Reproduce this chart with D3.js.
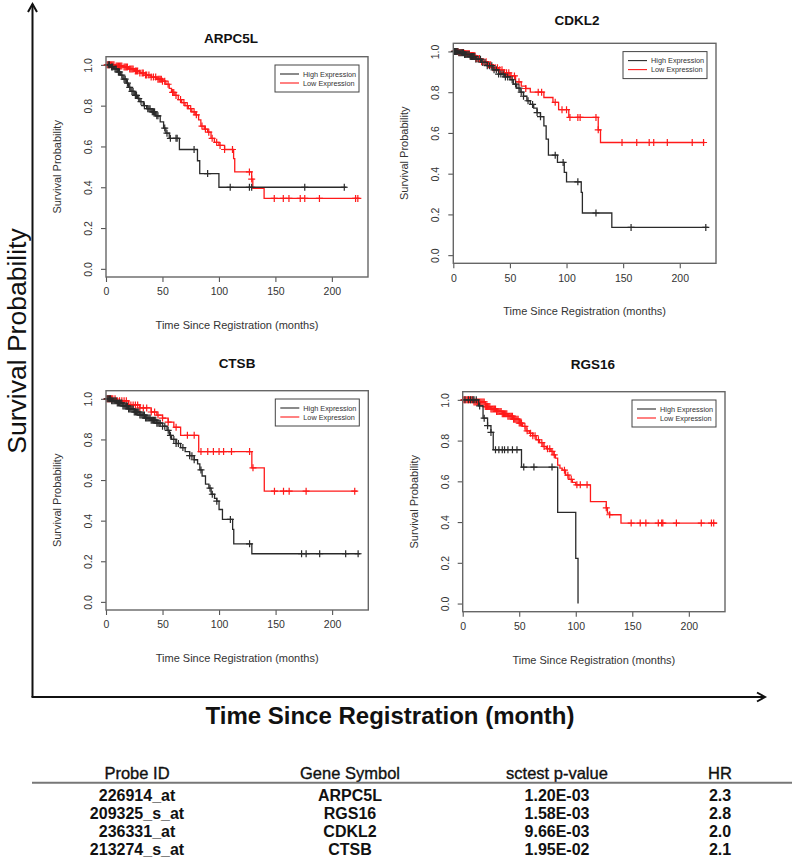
<!DOCTYPE html>
<html><head><meta charset="utf-8">
<script src="https://cdn.jsdelivr.net/npm/d3@7"></script>
<style>body{margin:0;background:#fff;} svg{display:block;font-family:"Liberation Sans",Arial,sans-serif;}</style>
</head><body><svg id="c" width="800" height="867"></svg>
<script>
// ---------------- DATA ----------------
const genes = ["ARPC5L", "CDKL2", "CTSB", "RGS16"];
const groupLabels = ["High Expression", "Low Expression"];
const xTicks = [0, 50, 100, 150, 200];
const yTicks = [0, 0.2, 0.4, 0.6, 0.8, 1.0];
const xAxisTitle = "Time Since Registration (months)";
const yAxisTitle = "Survival Probability";
const bigXTitle = "Time Since Registration (month)";
const bigYTitle = "Survival Probability";

const arpc5lHighTime = [0,4,7,10,13,15,18,20,22,25,28,30,33,36,40,44,48,51,53,56,65,81,83,100,213];
const arpc5lHighSurv = [1,0.99,0.98,0.965,0.95,0.93,0.91,0.89,0.87,0.85,0.835,0.82,0.80,0.785,0.77,0.75,0.72,0.69,0.665,0.64,0.585,0.53,0.467,0.40,0.40];
const arpc5lHighCensor = [2,3,5,6,8,9,11,12,14,16,17,19,21,23,24,26,27,29,31,34,37,38,39,41,42,43,45,46,52,54,57,62,63,78,90,110,127,129,176,211];
const arpc5lLowTime = [0,8,15,20,25,30,35,40,45,50,53,56,58,61,64,67,70,73,76,79,82,84,87,90,93,96,100,105,113,114,129,130,140,225];
const arpc5lLowSurv = [1,0.995,0.99,0.98,0.97,0.96,0.95,0.94,0.93,0.92,0.905,0.885,0.865,0.85,0.83,0.815,0.80,0.785,0.77,0.755,0.73,0.70,0.685,0.67,0.64,0.62,0.605,0.585,0.54,0.475,0.44,0.395,0.345,0.345];
const arpc5lLowCensor = [1,2,3,4,5,6,7,9,10,11,12,13,14,16,17,18,19,21,22,23,24,26,27,28,30,32,33,35,36,38,40,42,44,46,47,48,49,50,52,55,59,60,62,66,69,72,75,78,80,85,88,91,94,98,101,105,112,127,129,149,157,162,172,176,189,221,223];

const cdkl2HighTime = [0,5,10,15,20,25,30,35,40,45,50,53,56,59,62,65,68,71,74,77,80,82,84,92,98,100,113,114,140,225];
const cdkl2HighSurv = [1,0.993,0.985,0.975,0.962,0.946,0.93,0.91,0.889,0.875,0.861,0.84,0.82,0.80,0.78,0.758,0.74,0.722,0.70,0.68,0.635,0.57,0.491,0.455,0.406,0.36,0.308,0.207,0.136,0.136];
const cdkl2HighCensor = [1,2,3,4,5,6,7,8,9,10,11,12,13,14,15,16,17,18,19,20,22,24,26,28,30,32,34,36,38,40,42,44,46,48,52,55,58,60,62,66,70,74,77,90,97,110,126,157,223];
const cdkl2LowTime = [0,5,10,15,20,25,30,35,40,45,50,55,60,64,68,80,88,93,102,128,130,222];
const cdkl2LowSurv = [1,0.995,0.99,0.98,0.965,0.95,0.935,0.92,0.91,0.895,0.88,0.851,0.83,0.818,0.80,0.774,0.75,0.714,0.676,0.615,0.553,0.553];
const cdkl2LowCensor = [1,2,3,4,5,6,7,8,9,10,11,12,13,14,15,16,17,18,19,20,21,23,25,27,29,31,33,35,37,39,41,43,45,47,49,51,54,58,64,75,78,90,96,100,103,110,112,126,128,149,162,173,177,189,211,221];

const ctsbHighTime = [0,5,10,15,20,25,30,35,40,45,50,54,56,58,62,66,70,74,78,81,83,85,88,91,93,96,98,100,103,112,113,129,225];
const ctsbHighSurv = [1,0.99,0.98,0.965,0.95,0.935,0.92,0.905,0.895,0.88,0.865,0.845,0.82,0.80,0.78,0.76,0.74,0.72,0.70,0.68,0.65,0.62,0.58,0.56,0.53,0.51,0.496,0.455,0.406,0.357,0.286,0.237,0.237];
const ctsbHighCensor = [1,2,3,4,5,6,7,8,9,10,11,12,13,14,15,16,17,18,19,20,21,22,23,24,25,26,27,28,29,30,31,32,33,34,35,36,37,38,39,40,41,42,43,44,45,46,47,48,50,52,55,57,60,62,64,68,74,76,78,84,92,94,98,110,127,173,177,189,212,223];
const ctsbLowTime = [0,10,20,30,40,45,50,55,60,66,82,129,140,222];
const ctsbLowSurv = [1,0.99,0.97,0.955,0.935,0.92,0.905,0.885,0.86,0.82,0.74,0.66,0.545,0.545];
const ctsbLowCensor = [1,2,3,4,5,6,8,10,12,14,16,18,20,22,24,26,28,30,33,36,40,43,46,50,55,62,72,78,84,90,95,100,104,111,127,130,149,157,162,177,220];

const rgs16HighTime = [0,14,18,22,25,27,52,84,100,102];
const rgs16HighSurv = [1,0.97,0.91,0.873,0.84,0.755,0.67,0.448,0.222,0];
const rgs16HighCensor = [2,5,7,9,10,12,15,19,22,25,29,32,35,37,40,44,48,54,63,79];
const rgs16LowTime = [0,10,20,25,30,35,40,45,50,53,56,59,62,65,68,71,74,78,80,82,84,86,88,91,94,97,100,113,127,128,130,140,225];
const rgs16LowSurv = [1,0.99,0.967,0.955,0.943,0.932,0.92,0.905,0.886,0.87,0.848,0.836,0.824,0.804,0.79,0.771,0.76,0.747,0.73,0.714,0.68,0.665,0.655,0.63,0.61,0.595,0.583,0.50,0.47,0.444,0.436,0.395,0.395];
const rgs16LowCensor = [1,2,3,4,5,6,7,8,9,10,11,12,13,14,15,16,17,18,19,20,21,22,23,24,25,26,27,28,29,30,31,32,33,34,35,36,37,38,39,40,41,42,43,44,45,46,47,48,49,50,51,52,55,57,60,62,64,67,70,72,75,77,79,81,90,93,96,101,104,110,127,130,149,157,162,173,176,177,189,211,220,222];

const tableHeader = ["Probe ID", "Gene Symbol", "sctest p-value", "HR"];
const probeIds = ["226914_at", "209325_s_at", "236331_at", "213274_s_at"];
const geneSymbols = ["ARPC5L", "RGS16", "CDKL2", "CTSB"];
const pValues = ["1.20E-03", "1.58E-03", "9.66E-03", "1.95E-02"];
const hazardRatios = ["2.3", "2.8", "2.0", "2.1"];

// ---------------- BUILD ----------------
const curves = {
  ARPC5L: [[arpc5lHighTime, arpc5lHighSurv, arpc5lHighCensor], [arpc5lLowTime, arpc5lLowSurv, arpc5lLowCensor]],
  CDKL2: [[cdkl2HighTime, cdkl2HighSurv, cdkl2HighCensor], [cdkl2LowTime, cdkl2LowSurv, cdkl2LowCensor]],
  CTSB: [[ctsbHighTime, ctsbHighSurv, ctsbHighCensor], [ctsbLowTime, ctsbLowSurv, ctsbLowCensor]],
  RGS16: [[rgs16HighTime, rgs16HighSurv, rgs16HighCensor], [rgs16LowTime, rgs16LowSurv, rgs16LowCensor]]
};
const groupColors = ["#2a2a2a", "#ff1a1a"];

const layout = {
  ARPC5L: {x: 106, y: 56.7, w: 262, h: 220.3, tx: 231, ty: 38},
  CDKL2: {x: 453.3, y: 43.3, w: 262.7, h: 220, tx: 577, ty: 20},
  CTSB: {x: 106, y: 390.7, w: 262.3, h: 219.3, tx: 237, ty: 363},
  RGS16: {x: 462.7, y: 391.7, w: 262.3, h: 220, tx: 593, ty: 364}
};

const svg = d3.select("#c");

function survAt(times, surv, t) {
  let v = surv[0];
  for (let i = 0; i < times.length; i++) if (times[i] <= t) v = surv[i];
  return v;
}

genes.forEach(g => {
  const L = layout[g];
  const x = d3.scaleLinear().domain([0, 232]).range([0, L.w]);
  const y = d3.scaleLinear().domain([-0.04, 1.04]).range([L.h, 0]);
  const gp = svg.append("g").attr("transform", `translate(${L.x},${L.y})`);

  // title
  svg.append("text").attr("x", L.tx).attr("y", L.ty + 4.8)
    .attr("text-anchor", "middle").attr("font-weight", "bold").attr("font-size", 13.5)
    .attr("fill", "#111").text(g);

  // axes
  const xa = gp.append("g").attr("transform", `translate(0,${L.h})`)
    .call(d3.axisBottom(x).tickValues(xTicks).tickSize(5).tickPadding(6).tickFormat(d3.format("d")));
  xa.select(".domain").remove();
  xa.selectAll("line").attr("stroke", "#555").attr("stroke-width", 1.1);
  xa.selectAll("text").attr("font-size", 10.5).attr("fill", "#333").attr("font-family", "Liberation Sans, Arial, sans-serif");

  const ya = gp.append("g").call(d3.axisLeft(y).tickValues(yTicks).tickSize(5).tickFormat(d3.format(".1f")));
  ya.select(".domain").remove();
  ya.selectAll("line").attr("stroke", "#555").attr("stroke-width", 1.1);
  ya.selectAll("text").attr("font-size", 10.5).attr("fill", "#333")
    .attr("font-family", "Liberation Sans, Arial, sans-serif")
    .attr("x", null).attr("dy", null).attr("text-anchor", "middle")
    .attr("transform", "translate(-14,0) rotate(-90)");

  // axis titles
  gp.append("text").attr("x", L.w / 2).attr("y", L.h + 52).attr("text-anchor", "middle")
    .attr("font-size", 11).attr("fill", "#333").text(xAxisTitle);
  gp.append("text").attr("transform", `translate(-45,${L.h / 2}) rotate(-90)`).attr("text-anchor", "middle")
    .attr("font-size", 11).attr("fill", "#333").text(yAxisTitle);

  // curves (low first, high on top)
  [1, 0].forEach(k => {
    const [T, S, C] = curves[g][k];
    const pts = T.map((t, i) => [t, S[i]]);
    const line = d3.line().x(d => x(d[0])).y(d => y(d[1])).curve(d3.curveStepAfter);
    gp.append("path").attr("d", line(pts)).attr("fill", "none")
      .attr("stroke", groupColors[k]).attr("stroke-width", 1.3);
    const cg = gp.append("g").attr("stroke", groupColors[k]).attr("stroke-width", 1.2);
    C.forEach(t => {
      const cx = x(t), cy = y(survAt(T, S, t));
      cg.append("path").attr("d", `M${cx - 3.5},${cy}H${cx + 3.5}M${cx},${cy - 3.5}V${cy + 3.5}`);
    });
  });

  // box
  gp.append("rect").attr("width", L.w).attr("height", L.h).attr("fill", "none")
    .attr("stroke", "#666").attr("stroke-width", 1.4);

  // legend
  const lg = gp.append("g").attr("transform", `translate(${L.w - 93},8.3)`);
  lg.append("rect").attr("width", 84).attr("height", 27).attr("fill", "#fff")
    .attr("stroke", "#444").attr("stroke-width", 1);
  groupLabels.forEach((lab, k) => {
    const yy = 9 + k * 9;
    lg.append("line").attr("x1", 5).attr("x2", 24).attr("y1", yy).attr("y2", yy)
      .attr("stroke", groupColors[k]).attr("stroke-width", 1.1);
    lg.append("text").attr("x", 28).attr("y", yy + 2.5).attr("font-size", 7.3)
      .attr("fill", "#333").text(lab);
  });
});

// big axes arrows
const ax = svg.append("g").attr("stroke", "#111").attr("stroke-width", 2).attr("fill", "none");
ax.append("path").attr("d", "M32.5,697V4");
ax.append("path").attr("d", "M28,12L32.5,4L37,12");
ax.append("path").attr("d", "M31.5,697H765");
ax.append("path").attr("d", "M757,692.5L765,697L757,701.5");

svg.append("text").attr("x", 390).attr("y", 724).attr("text-anchor", "middle")
  .attr("font-weight", "bold").attr("font-size", 24).attr("fill", "#111").text(bigXTitle);
svg.append("text").attr("transform", "translate(26,341) rotate(-90)").attr("text-anchor", "middle")
  .attr("font-size", 26.5).attr("fill", "#111").text(bigYTitle);

// table
const colX = [137, 350, 557, 720];
const rowY = [795.5, 813.5, 831.5, 849.5];
tableHeader.forEach((h, i) => {
  svg.append("text").attr("x", colX[i]).attr("y", 773 + 5.7).attr("text-anchor", "middle")
    .attr("font-size", 16.5).attr("fill", "#111").attr("stroke", "#111").attr("stroke-width", 0.35)
    .text(h);
});
svg.append("line").attr("x1", 32).attr("x2", 792).attr("y1", 782.7).attr("y2", 782.7)
  .attr("stroke", "#777").attr("stroke-width", 2);
const cols = [probeIds, geneSymbols, pValues, hazardRatios];
cols.forEach((col, i) => {
  col.forEach((v, r) => {
    svg.append("text").attr("x", colX[i]).attr("y", rowY[r] + 5.7).attr("text-anchor", "middle")
      .attr("font-size", 16).attr("font-weight", "bold").attr("fill", "#111").text(v);
  });
});
</script>
</body></html>
